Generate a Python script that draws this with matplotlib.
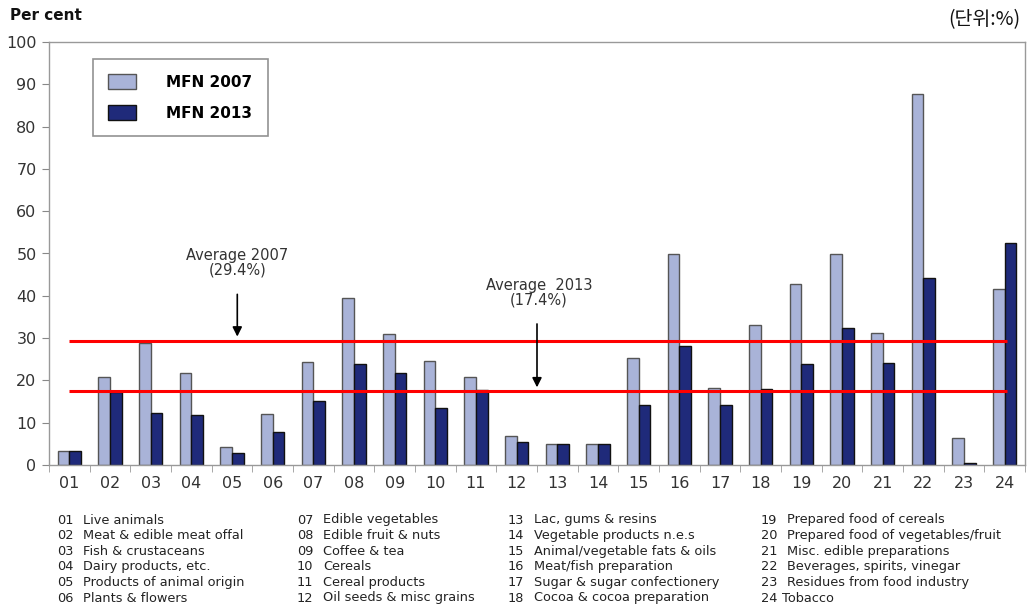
import numpy as np
import matplotlib.pyplot as plt
from matplotlib.patches import Patch

# -----------------------------
# Data
# -----------------------------
codes = ["01", "02", "03", "04", "05", "06", "07", "08", "09", "10", "11", "12",
         "13", "14", "15", "16", "17", "18", "19", "20", "21", "22", "23", "24"]
names = ["Live animals", "Meat & edible meat offal", "Fish & crustaceans",
         "Dairy products, etc.", "Products of animal origin", "Plants & flowers",
         "Edible vegetables", "Edible fruit & nuts", "Coffee & tea", "Cereals",
         "Cereal products", "Oil seeds & misc grains",
         "Lac, gums & resins", "Vegetable products n.e.s", "Animal/vegetable fats & oils",
         "Meat/fish preparation", "Sugar & sugar confectionery", "Cocoa & cocoa preparation",
         "Prepared food of cereals", "Prepared food of vegetables/fruit",
         "Misc. edible preparations", "Beverages, spirits, vinegar",
         "Residues from food industry", "Tobacco"]
mfn_2007 = [3.3, 20.7, 28.8, 21.8, 4.3, 12.1, 24.3, 39.5, 30.9, 24.5, 20.9, 6.8,
            4.9, 5.0, 25.4, 49.9, 18.3, 33.0, 42.8, 49.9, 31.3, 87.8, 6.3, 41.6]
mfn_2013 = [3.4, 17.3, 12.2, 11.8, 2.8, 7.9, 15.1, 23.9, 21.8, 13.4, 17.7, 5.5,
            5.0, 5.0, 14.1, 28.1, 14.1, 17.9, 23.8, 32.3, 24.0, 44.2, 0.5, 52.6]
avg_2007 = 29.4
avg_2013 = 17.4

light = "#A9B3D8"
dark = "#1F2A7A"
text_col = "#333333"

fig = plt.figure(figsize=(10.27, 6.08), dpi=100)
ax = fig.add_axes([49 / 1027, 1 - 465 / 608, (1025 - 49) / 1027, (465 - 42) / 608])

x = np.arange(len(codes))
w = 0.29
ax.bar(x - w / 2, mfn_2007, width=w, color=light, edgecolor="#555555", linewidth=1.0)
ax.bar(x + w / 2, mfn_2013, width=w, color=dark, edgecolor="#111111", linewidth=1.0)

# average lines (from first to last category centre)
ax.hlines([avg_2007, avg_2013], 0, len(codes) - 0.95, colors="#FF0000", linewidth=2.2, zorder=3)

ax.annotate("", xy=(4.13, avg_2007 + 0.3), xytext=(4.13, 41),
            arrowprops=dict(arrowstyle="-|>", color="black", lw=1.2, mutation_scale=14))
ax.text(4.13, 44.3, "Average 2007\n(29.4%)", ha="center", va="bottom",
        fontsize=10.5, color=text_col, linespacing=1.0)
ax.annotate("", xy=(11.5, avg_2013 + 0.3), xytext=(11.5, 34),
            arrowprops=dict(arrowstyle="-|>", color="black", lw=1.2, mutation_scale=14))
ax.text(11.55, 37.2, "Average  2013\n(17.4%)", ha="center", va="bottom",
        fontsize=10.5, color=text_col, linespacing=1.0)

ax.set_xlim(-0.5, len(codes) - 0.5)
ax.set_ylim(0, 100)
ax.set_yticks(np.arange(0, 101, 10))
ax.set_xticks(x)
ax.set_xticklabels(codes)
ax.set_xticks(np.arange(-0.5, len(codes), 1), minor=True)
ax.tick_params(axis="x", which="major", length=0, pad=8, labelsize=11.5, labelcolor=text_col)
ax.tick_params(axis="x", which="minor", length=5, color="#999999", direction="out")
ax.tick_params(axis="y", length=5, color="#888888", labelsize=11.5, labelcolor=text_col, pad=4)
for side in ["left", "bottom", "top", "right"]:
    ax.spines[side].set_color("#999999")
    ax.spines[side].set_linewidth(1.0)

handles = [Patch(facecolor=light, edgecolor="#555555", label="MFN 2007"),
           Patch(facecolor=dark, edgecolor="#111111", label="MFN 2013")]
leg = ax.legend(handles=handles, loc="upper left", bbox_to_anchor=(93 / 1027, 1 - 59 / 608),
                bbox_transform=fig.transFigure, prop={"weight": "bold", "size": 11},
                fancybox=False, edgecolor="#777777", borderpad=1.0, handlelength=1.8,
                handleheight=1.1, handletextpad=2.0, labelspacing=1.0, borderaxespad=0)
leg.get_frame().set_linewidth(1.2)

fig.text(10 / 1027, 1 - 15 / 608, "Per cent", fontsize=11, fontweight="bold",
         va="center", ha="left", color="#111111")
fig.text(1020 / 1027, 1 - 20 / 608, "(단위:%)", fontsize=14, va="center", ha="right",
         family=["Noto Sans CJK KR", "DejaVu Sans"], color="#111111")

# category key below the chart
col_x = [57, 297, 508, 761]
name_off = 26
row_y0 = 520
row_dy = 15.6
for i, (code, name) in enumerate(zip(codes, names)):
    col, row = divmod(i, 6)
    yy = 1 - (row_y0 + row * row_dy) / 608
    fig.text(col_x[col] / 1027, yy, code, fontsize=9.3, va="center", ha="left", color="#222222")
    off = 21 if code == "24" else name_off
    fig.text((col_x[col] + off) / 1027, yy, name, fontsize=9.3, va="center", ha="left",
             color="#222222")

fig.savefig("out.png", dpi=100)
